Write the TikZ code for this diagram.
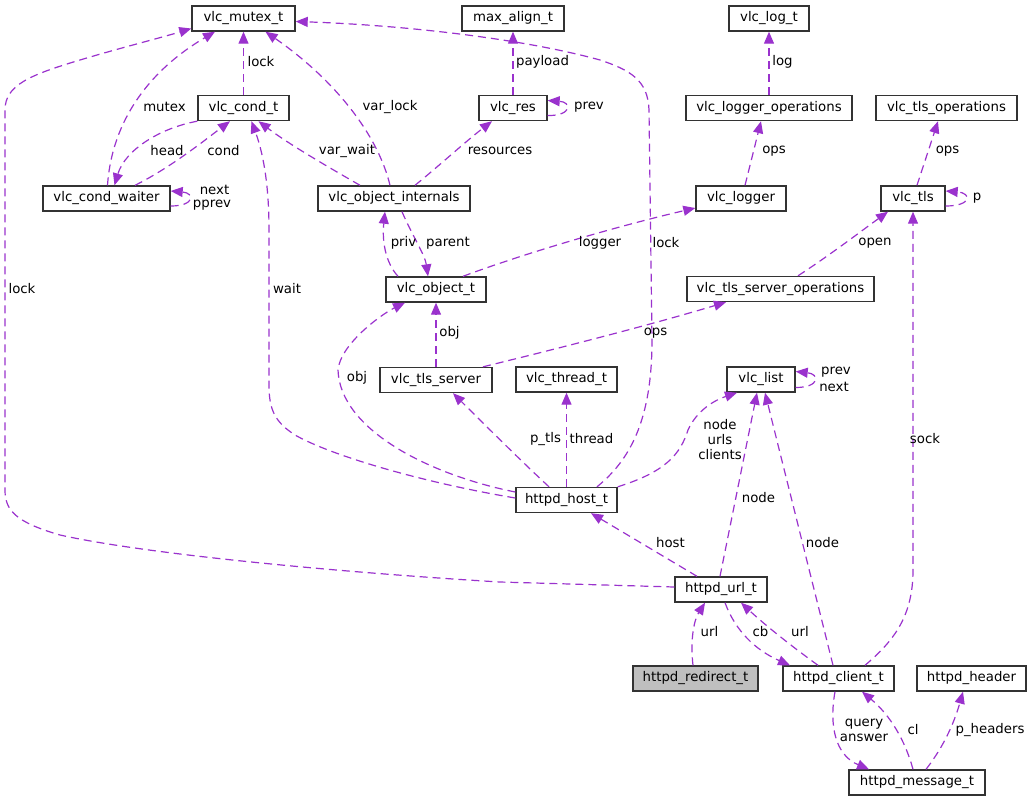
\documentclass[tikz,border=0pt]{standalone}
\usepackage{fontspec}
\setmainfont{DejaVu Sans}
\usetikzlibrary{arrows.meta}
\definecolor{edgec}{HTML}{9A32CD}
\definecolor{boxc}{HTML}{333333}
\definecolor{grayfill}{HTML}{BFBFBF}
\tikzset{
  cls/.style={draw=boxc, line width=1.4pt, fill=white, minimum height=25pt, inner sep=0pt,
    font=\fontsize{13.3}{16}\selectfont},
  rel/.style={draw=edgec, line width=1.2pt, dash pattern=on 8pt off 5pt,
    -{Triangle[length=12pt,width=10pt,fill=edgec]}},
  lbl/.style={inner sep=0pt, font=\fontsize{13.3}{15}\selectfont, align=center},
}
\begin{document}
\begin{tikzpicture}[x=1pt,y=-1pt]
\useasboundingbox (0,0) rectangle (1031,801);
% nodes
\node[cls, minimum width=103pt] (mutex) at (243.5,18.5) {vlc\_mutex\_t};
\node[cls, minimum width=102pt] (maxalign) at (513,18.5) {max\_align\_t};
\node[cls, minimum width=80pt] (logt) at (769,18.5) {vlc\_log\_t};
\node[cls, minimum width=91pt] (cond) at (243.5,108) {vlc\_cond\_t};
\node[cls, minimum width=68pt] (res) at (513,108) {vlc\_res};
\node[cls, minimum width=166pt] (loggerops) at (769,108) {vlc\_logger\_operations};
\node[cls, minimum width=141pt] (tlsops) at (946.5,108) {vlc\_tls\_operations};
\node[cls, minimum width=127pt] (waiter) at (106.5,198.5) {vlc\_cond\_waiter};
\node[cls, minimum width=152pt] (internals) at (394,198.5) {vlc\_object\_internals};
\node[cls, minimum width=90pt] (logger) at (741,198.5) {vlc\_logger};
\node[cls, minimum width=64pt] (tls) at (913,198.5) {vlc\_tls};
\node[cls, minimum width=100pt] (objt) at (436,289.5) {vlc\_object\_t};
\node[cls, minimum width=187pt] (tlsserverops) at (780.5,289) {vlc\_tls\_server\_operations};
\node[cls, minimum width=112pt] (tlsserver) at (436,380) {vlc\_tls\_server};
\node[cls, minimum width=101pt] (thread) at (566.5,379.5) {vlc\_thread\_t};
\node[cls, minimum width=68pt] (list) at (761,379.5) {vlc\_list};
\node[cls, minimum width=101pt] (host) at (566.5,500) {httpd\_host\_t};
\node[cls, minimum width=92pt] (url) at (721,589.5) {httpd\_url\_t};
\node[cls, minimum width=125pt, fill=grayfill] (redirect) at (695.5,678.5) {httpd\_redirect\_t};
\node[cls, minimum width=111pt] (client) at (838.5,678.5) {httpd\_client\_t};
\node[cls, minimum width=109pt] (header) at (971.5,678.5) {httpd\_header};
\node[cls, minimum width=136pt] (message) at (917,782.5) {httpd\_message\_t};

% edges
\draw[rel] (cond.north) -- (mutex.south);
\draw[rel] ([xshift=1pt]waiter.north) .. controls (112,120) and (150,70) .. ([xshift=-28.5pt]mutex.south);
\draw[rel] (cond.south west) .. controls (160,128) and (125,150) .. ([xshift=8pt]waiter.north);
\draw[rel] ([xshift=28.5pt]waiter.north) .. controls (170,168) and (205,140) .. ([xshift=-13.5pt]cond.south);
\draw[rel] ([yshift=-7.5pt]waiter.east) .. controls (195,206) and (195,193) .. ([yshift=7.5pt]waiter.east);
\draw[rel] ([xshift=-34pt]internals.north) .. controls (330,168) and (290,145) .. ([xshift=15pt]cond.south);
\draw[rel] ([xshift=-4pt]internals.north) .. controls (378,135) and (335,80) .. ([xshift=22pt]mutex.south);
\draw[rel] ([xshift=21pt]internals.north) .. controls (440,165) and (465,142) .. ([xshift=-21pt]res.south);
\draw[rel] (res.north) -- (maxalign.south);
\draw[rel] ([yshift=-7.5pt]res.east) .. controls (572,116) and (572,102) .. ([yshift=7.5pt]res.east);
\draw[rel] ([xshift=-38pt]objt.north) .. controls (385,262) and (382,240) .. ([xshift=-9pt]internals.south);
\draw[rel] ([xshift=8pt]internals.south) .. controls (412,235) and (425,255) .. ([xshift=-8pt]objt.north);
\draw[rel] ([xshift=27pt]objt.north) .. controls (520,255) and (610,228) .. ([yshift=-9.5pt]logger.west);
\draw[rel] ([xshift=4pt]logger.north) -- ([xshift=-8pt]loggerops.south);
\draw[rel] (loggerops.north) -- (logt.south);
\draw[rel] ([xshift=4pt]tls.north) -- ([xshift=-8.5pt]tlsops.south);
\draw[rel] ([yshift=-7.5pt]tls.east) .. controls (972,206) and (972,193) .. ([yshift=7.5pt]tls.east);
\draw[rel] ([xshift=17.5pt]tlsserverops.north) .. controls (830,255) and (860,232) .. ([xshift=-25pt]tls.south);
\draw[rel] (tlsserver.north) -- (objt.south);
\draw[rel] ([xshift=47pt]tlsserver.north) .. controls (560,348) and (650,325) .. ([xshift=-54.5pt]tlsserverops.south);
\draw[rel] ([yshift=8pt]host.west) .. controls (430,475) and (340,430) .. (338,370)
   .. controls (340,345) and (380,315) .. ([xshift=-31pt]objt.south);
\draw[rel] ([yshift=2pt]host.west) .. controls (420,482) and (330,455) .. (295,435)
   .. controls (275,422) and (269,410) .. (269,385) -- (269,230)
   .. controls (269,180) and (262,150) .. ([xshift=8pt]cond.south);
\draw[rel] ([xshift=-17.5pt]host.north) .. controls (520,460) and (480,420) .. ([xshift=17pt]tlsserver.south);
\draw[rel] (host.north) -- (thread.south);
\draw[rel] ([xshift=30.5pt]host.north) .. controls (630,460) and (652,420) .. (652,340) -- (649,110)
   .. controls (648,80) and (630,70) .. (600,60)
   .. controls (520,38) and (400,25) .. ([yshift=-3pt]mutex.east);
\draw[rel] (host.north east) .. controls (665,472) and (680,455) .. (688,430)
   .. controls (697,410) and (715,400) .. ([xshift=-24pt]list.south);
\draw[rel] ([yshift=-8pt]list.east) .. controls (820,387.5) and (820,374) .. ([yshift=8pt]list.east);
\draw[rel] ([xshift=-1pt]url.north) -- ([xshift=-4pt]list.south);
\draw[rel] ([xshift=-24pt]url.north) -- ([xshift=24.5pt]host.south);
\draw[rel] ([yshift=2.5pt]url.west) -- (500,582) .. controls (350,573) and (150,555) .. (60,535)
   .. controls (15,522) and (5,510) .. (5,490) -- (5,110)
   .. controls (5,85) and (30,75) .. (80,60)
   .. controls (120,48) and (160,38) .. ([yshift=-10pt]mutex.west);
\draw[rel] ([xshift=-2.5pt]redirect.north) .. controls (690,640) and (694,620) .. ([xshift=-16pt]url.south);
\draw[rel] ([xshift=4pt]url.south) .. controls (735,630) and (755,650) .. ([xshift=-48.5pt]client.north);
\draw[rel] ([xshift=-20.5pt]client.north) .. controls (790,645) and (765,625) .. ([xshift=20pt]url.south);
\draw[rel] ([xshift=-5.5pt]client.north) -- ([xshift=4pt]list.south);
\draw[rel] ([xshift=26.5pt]client.north) .. controls (895,640) and (913,615) .. (913,570) -- (tls.south);
\draw[rel] ([xshift=-3.5pt]client.south) .. controls (829,725) and (835,755) .. ([xshift=-48pt]message.north);
\draw[rel] ([xshift=-4pt]message.north) .. controls (905,740) and (890,715) .. ([xshift=23.5pt]client.south);
\draw[rel] ([xshift=9pt]message.north) .. controls (945,745) and (955,720) .. ([xshift=-8.5pt]header.south);

% labels
\node[lbl] (l1) at (261,62) {lock};
\node[lbl] (l2) at (164.5,107) {mutex};
\node[lbl] (l3) at (167,151) {head};
\node[lbl] (l4) at (223.5,151) {cond};
\node[lbl] (l5) at (214.5,190) {next};
\node[lbl] (l6) at (212,205) {pprev};
\node[lbl] (l7) at (347,151) {var\_wait};
\node[lbl] (l8) at (390,107) {var\_lock};
\node[lbl] (l9) at (500,151) {resources};
\node[lbl] (l10) at (542.5,62) {payload};
\node[lbl] (l11) at (589,107) {prev};
\node[lbl] (l12) at (403.5,243) {priv};
\node[lbl] (l13) at (448,243) {parent};
\node[lbl] (l14) at (600,243) {logger};
\node[lbl] (l15) at (666,243) {lock};
\node[lbl] (l16) at (782.5,62) {log};
\node[lbl] (l17) at (774,151) {ops};
\node[lbl] (l18) at (947.5,151) {ops};
\node[lbl] (l19) at (977,198) {p};
\node[lbl] (l20) at (875,243) {open};
\node[lbl] (l21) at (22,289) {lock};
\node[lbl] (l22) at (287,289) {wait};
\node[lbl] (l23) at (449.5,333) {obj};
\node[lbl] (l24) at (357,378) {obj};
\node[lbl] (l25) at (655.5,333) {ops};
\node[lbl] (l26) at (545.5,439) {p\_tls};
\node[lbl] (l27) at (591.5,439) {thread};
\node[lbl] (l28) at (720,439.5) {node\\urls\\clients};
\node[lbl] (l29) at (836,372) {prev};
\node[lbl] (l30) at (834,387) {next};
\node[lbl] (l31) at (758.5,498) {node};
\node[lbl] (l32) at (670.5,543) {host};
\node[lbl] (l33) at (822.5,543) {node};
\node[lbl] (l34) at (925,439) {sock};
\node[lbl] (l35) at (709.5,632) {url};
\node[lbl] (l36) at (760.5,632) {cb};
\node[lbl] (l37) at (800,632) {url};
\node[lbl] (l38) at (864,730) {query\\answer};
\node[lbl] (l39) at (913,730) {cl};
\node[lbl] (l40) at (990,730) {p\_headers};
\end{tikzpicture}
\end{document}
